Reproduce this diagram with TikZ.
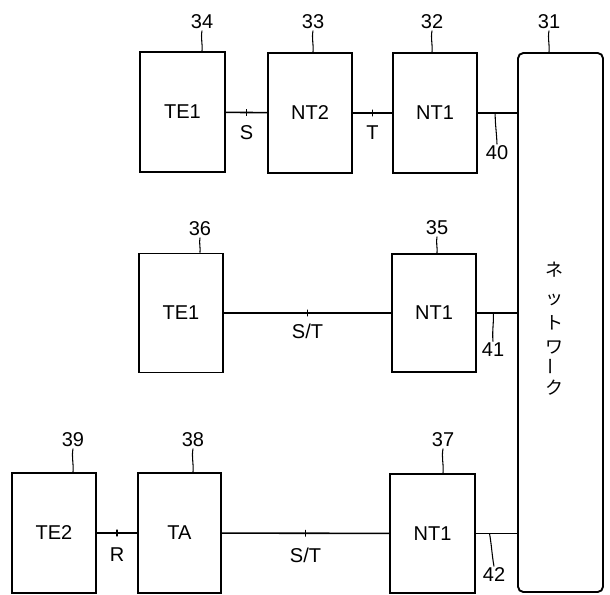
\documentclass[tikz,border=0pt]{standalone}
\usepackage{fontspec}
\setmainfont{Liberation Sans}
\newfontfamily\jpfont{Noto Sans CJK JP}
\usetikzlibrary{calc}
\begin{document}
\begin{tikzpicture}[x=0.75pt,y=-0.75pt,
  blk/.style={draw, line width=1.4pt, inner sep=0pt, font=\fontsize{15}{17}\selectfont},
  num/.style={font=\fontsize{15}{17}\selectfont, inner sep=1pt},
  conn/.style={line width=1.2pt},
  lead/.style={line width=0.8pt},
  tickmk/.style={draw, line width=0.9pt, minimum width=0pt, minimum height=5pt, inner sep=0pt},
  jp/.style={font=\jpfont\fontsize{13.5}{15}\selectfont, inner sep=0pt}]
\useasboundingbox (0,0) rectangle (610,595);

% boxes
\node[blk, minimum width=63.75pt, minimum height=90pt] (b34) at (182.5,112) {TE1};
\node[blk, minimum width=63pt, minimum height=90pt] (b33) at (310,113) {NT2};
\node[blk, minimum width=63pt, minimum height=90pt] (b32) at (435,113) {NT1};
\node[blk, rounded corners=4pt, minimum width=63.75pt, minimum height=404.25pt] (b31) at (560.5,322.5) {};
\node[blk, minimum width=63pt, minimum height=89.25pt] (b36) at (181,313) {TE1};
\node[blk, minimum width=63pt, minimum height=88.5pt] (b35) at (434,313) {NT1};
\node[blk, minimum width=63pt, minimum height=90pt] (b39) at (54,533) {TE2};
\node[blk, minimum width=62.25pt, minimum height=90pt] (b38) at (179.5,533) {TA};
\node[blk, minimum width=63.75pt, minimum height=89.25pt] (b37) at (432.5,533.5) {NT1};

% network text (vertical)
\node[jp] (j1) at (554,270) {ネ};
\node[jp] (j2) at (554,300) {ッ};
\node[jp] (j3) at (554,323) {ト};
\node[jp] (j4) at (554,347) {ワ};
\node[jp, rotate=90] (j5) at (554,366) {ー};
\node[jp] (j6) at (554,388) {ク};

% connectors between boxes
\draw[conn] (b34) -- node[midway, tickmk]{} node[midway, num, yshift=-15pt]{S} (b33);
\draw[conn] (b33) -- node[midway, tickmk]{} node[midway, num, yshift=-15pt]{T} (b32);
\draw[conn] (b36) -- node[midway, tickmk]{} node[midway, num, yshift=-14pt]{S/T} (b35);
\draw[conn] (b39) -- node[midway, tickmk]{} node[midway, num, yshift=-16.5pt]{R} (b38);
\draw[conn] (b38) -- node[midway, tickmk]{} node[midway, num, yshift=-16.5pt]{S/T} (b37);

% connectors to network
\draw[conn] (b32.east) -- coordinate[pos=0.44] (c40) (b32.east -| b31.west);
\draw[conn] (b35.east) -- coordinate[pos=0.41] (c41) (b35.east -| b31.west);
\draw[conn] (b37.east) -- coordinate[pos=0.33] (c42) (b37.east -| b31.west);

% reference numerals
\node[num] (l34) at (202,22) {34};
\node[num] (l33) at (313,22) {33};
\node[num] (l32) at (432,22) {32};
\node[num] (l31) at (549,22) {31};
\node[num] (l36) at (200,229) {36};
\node[num] (l35) at (437,228) {35};
\node[num] (l39) at (73,440) {39};
\node[num] (l38) at (193,440) {38};
\node[num] (l37) at (443,440) {37};
\node[num] (l40) at (497,153) {40};
\node[num] (l41) at (493,350) {41};
\node[num] (l42) at (494,575) {42};

% leader lines
\foreach \n in {34,33,32,31,36,35,39,38,37}{
  \draw[lead] (l\n.south) to[out=-100,in=85] (l\n.south |- b\n.north);
}
\draw[lead] (c40) to[out=-90,in=92] (l40.north);
\draw[lead] (c41) to[out=-88,in=95] (l41.north);
\draw[lead] (c42) to[out=-80,in=100] (l42.north);
\end{tikzpicture}
\end{document}
